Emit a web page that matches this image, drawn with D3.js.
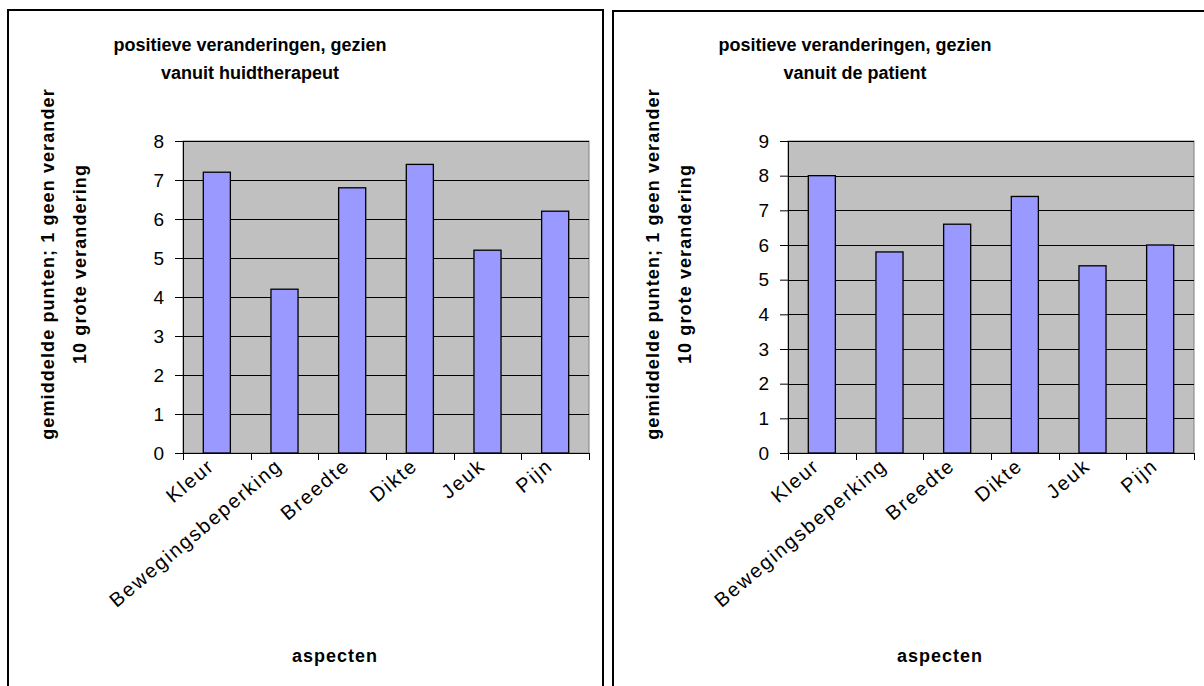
<!DOCTYPE html>
<html><head><meta charset="utf-8">
<script src="https://cdn.jsdelivr.net/npm/d3@7"></script>
<style>body{margin:0;background:#fff}svg{display:block;font-family:Arial,"Liberation Sans",sans-serif}</style>
</head><body><svg id="c" width="1204" height="686"></svg>
<script>
const categories = ["Kleur","Bewegingsbeperking","Breedte","Dikte","Jeuk","Pijn"];
const therapistValues = [7.2,4.2,6.8,7.4,5.2,6.2];
const patientValues = [8.0,5.8,6.6,7.4,5.4,6.0];
const therapistTicks = [0,1,2,3,4,5,6,7,8];
const patientTicks = [0,1,2,3,4,5,6,7,8,9];
const therapistTitle = ["positieve veranderingen, gezien","vanuit huidtherapeut"];
const patientTitle = ["positieve veranderingen, gezien","vanuit de patient"];
const yTitle = ["gemiddelde punten; 1 geen verander","10 grote verandering"];
const xTitle = "aspecten";

const svg = d3.select("#c");
svg.append("rect").attr("width",1204).attr("height",686).attr("fill","#fff");

function panel(ox, oy, values, ticks, titleLines) {
  const g = svg.append("g").attr("transform",`translate(${ox},0)`);
  g.append("rect").attr("x",8).attr("y",oy).attr("width",595).attr("height",720)
    .attr("fill","none").attr("stroke","#000").attr("stroke-width",2);
  const left=183, right=589, top=141, bottom=453;
  const x = d3.scaleBand().domain(categories).range([left,right]).paddingInner(0.6).paddingOuter(0.3);
  const xb = d3.scaleBand().domain(categories).range([left,right]);
  const y = d3.scaleLinear().domain([0, d3.max(ticks)]).range([bottom, top]);
  g.append("rect").attr("x",left).attr("y",top).attr("width",right-left).attr("height",bottom-top)
    .attr("fill","#c0c0c0").attr("stroke","#808080").attr("stroke-width",1);
  g.selectAll(".grid").data(ticks.filter(t=>t>0)).join("line")
    .attr("x1",left).attr("x2",right).attr("y1",d=>Math.round(y(d))+0.5).attr("y2",d=>Math.round(y(d))+0.5)
    .attr("stroke","#000").attr("stroke-width",1);
  g.selectAll(".bar").data(values).join("rect")
    .attr("x",(d,i)=>x(categories[i])).attr("width",x.bandwidth())
    .attr("y",d=>y(d)).attr("height",d=>bottom-y(d))
    .attr("fill","#9999ff").attr("stroke","#000").attr("stroke-width",1.3);
  // y axis
  const ya = g.append("g").attr("transform",`translate(${left},0)`)
    .call(d3.axisLeft(y).tickValues(ticks).tickSize(8).tickPadding(11).tickSizeOuter(0).tickFormat(d3.format("d")));
  ya.select(".domain").attr("stroke","#000");
  ya.selectAll("text").attr("font-size",19).attr("fill","#000").attr("font-family","Arial,'Liberation Sans',sans-serif");
  // x axis
  const xa = g.append("g").attr("transform",`translate(0,${bottom})`)
    .call(d3.axisBottom(xb).tickSize(0).tickSizeOuter(0).tickFormat(""));
  xa.select(".domain").attr("stroke","#000");
  const bounds = categories.map(c=>xb(c)).concat([right]);
  g.selectAll(".xt").data(bounds).join("line")
    .attr("x1",d=>Math.round(d)+0.5).attr("x2",d=>Math.round(d)+0.5).attr("y1",bottom).attr("y2",bottom+7).attr("stroke","#000");
  g.selectAll(".cl").data(categories).join("text")
    .attr("transform",d=>`translate(${xb(d)+xb.bandwidth()/2-1},${bottom+15}) rotate(-40)`)
    .attr("text-anchor","end").attr("font-size",20).attr("letter-spacing","1.8px").text(d=>d);
  // titles
  g.selectAll(".tt").data(titleLines).join("text")
    .attr("x",250).attr("y",(d,i)=>51+i*28).attr("text-anchor","middle")
    .attr("font-weight","bold").attr("font-size",18).text(d=>d);
  g.append("text").attr("x",335).attr("y",662).attr("text-anchor","middle")
    .attr("font-weight","bold").attr("font-size",18).attr("letter-spacing","1px").text(xTitle);
  g.selectAll(".yt").data(yTitle).join("text")
    .attr("transform",(d,i)=>`translate(${54+i*32},264) rotate(-90)`).attr("text-anchor","middle")
    .attr("font-weight","bold").attr("font-size",18).attr("letter-spacing","1.1px").text(d=>d);
}
panel(0,10,therapistValues,therapistTicks,therapistTitle);
panel(605,11,patientValues,patientTicks,patientTitle);
</script></body></html>
